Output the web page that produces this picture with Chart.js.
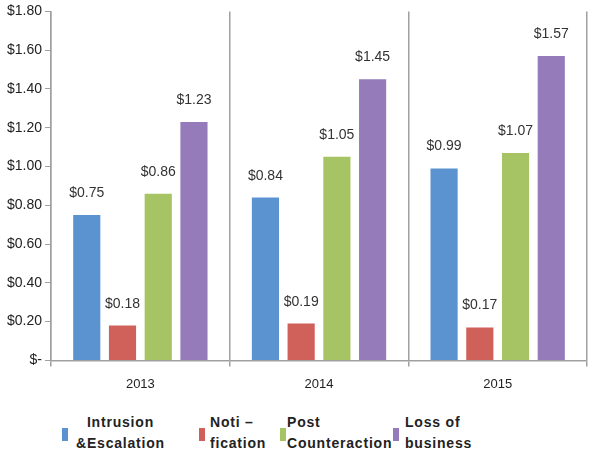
<!DOCTYPE html>
<html>
<head>
<meta charset="utf-8">
<script src="https://cdn.jsdelivr.net/npm/chart.js@4/dist/chart.umd.min.js"></script>
<style>
  body { margin: 0; background: #fff; }
  #wrap { position: relative; width: 599px; height: 456px; }
  #chart-box { position: absolute; left: 0; top: 0; width: 599px; height: 408px; }
  #legend { position: absolute; left: 0; top: 412px; width: 599px; height: 44px;
    font-family: "Liberation Sans", Arial, sans-serif; font-weight: bold; font-size: 14px;
    letter-spacing: 0.8px; color: #222; }
  .item { position: absolute; top: 0; line-height: 21px; }
  .box { position: absolute; width: 6px; height: 13px; top: 16px; }
</style>
</head>
<body>
<div id="wrap">
  <div id="chart-box"><canvas id="costChart"></canvas></div>
  <div id="legend"></div>
</div>
<script>
// data
const years = ['2013', '2014', '2015'];
const intrusion = [0.75, 0.84, 0.99];
const notification = [0.18, 0.19, 0.17];
const postCounter = [0.86, 1.05, 1.07];
const lossBusiness = [1.23, 1.45, 1.57];

const seriesNames = [['Intrusion', '&Escalation'], ['Noti –', 'fication'], ['Post', 'Counteraction'], ['Loss of', 'business']];
const seriesColors = ['#5b93d0', '#d0605a', '#a6c463', '#967bba'];

const fmtMoney = v => v === 0 ? '$-' : '$' + v.toFixed(2);

// draws the value above each bar
const valueLabels = {
  id: 'valueLabels',
  afterDatasetsDraw(chart) {
    const ctx = chart.ctx;
    ctx.save();
    ctx.font = '14px "Liberation Sans Narrow", "Arial Narrow", sans-serif';
    ctx.fillStyle = '#333';
    ctx.textAlign = 'center';
    ctx.textBaseline = 'alphabetic';
    chart.data.datasets.forEach((ds, i) => {
      chart.getDatasetMeta(i).data.forEach((bar, j) => {
        ctx.fillText(fmtMoney(ds.data[j]), bar.x, bar.y - 18);
      });
    });
    ctx.restore();
  }
};

const allSeries = [intrusion, notification, postCounter, lossBusiness];

new Chart(document.getElementById('costChart'), {
  type: 'bar',
  data: {
    labels: years,
    datasets: allSeries.map((vals, i) => ({
      label: seriesNames[i].join(' '),
      data: vals,
      backgroundColor: seriesColors[i],
      categoryPercentage: 0.8,
      barPercentage: 0.76
    }))
  },
  options: {
    responsive: true,
    maintainAspectRatio: false,
    animation: false,
    layout: { padding: { top: 4, right: 12, left: 4, bottom: 6 } },
    plugins: {
      legend: { display: false },
      tooltip: { enabled: false }
    },
    scales: {
      x: {
        grid: { offset: true, color: '#a0a0a0', lineWidth: 1.5, tickLength: 6 },
        border: { color: '#a0a0a0', width: 1.5 },
        ticks: {
          color: '#222', padding: 10,
          font: { family: '"Liberation Sans Narrow", "Arial Narrow", sans-serif', size: 13 }
        }
      },
      y: {
        min: 0, max: 1.8,
        grid: { drawOnChartArea: false, color: '#a0a0a0', tickLength: 6 },
        border: { color: '#a0a0a0', width: 1.5 },
        ticks: {
          stepSize: 0.2, color: '#222', padding: 3,
          font: { family: '"Liberation Sans Narrow", "Arial Narrow", sans-serif', size: 14 },
          callback: v => fmtMoney(v)
        }
      }
    }
  },
  plugins: [valueLabels]
});

// legend below the chart
const legendPos = [[62, 76], [199, 210], [280, 287], [393, 405]];
const legend = document.getElementById('legend');
seriesNames.forEach((lines, i) => {
  const box = document.createElement('div');
  box.className = 'box';
  box.style.left = legendPos[i][0] + 'px';
  box.style.background = seriesColors[i];
  legend.appendChild(box);
  const item = document.createElement('div');
  item.className = 'item';
  item.style.left = legendPos[i][1] + 'px';
  item.innerHTML = lines.join('<br>');
  if (i === 0) item.style.textAlign = 'center';
  legend.appendChild(item);
});
</script>
</body>
</html>
